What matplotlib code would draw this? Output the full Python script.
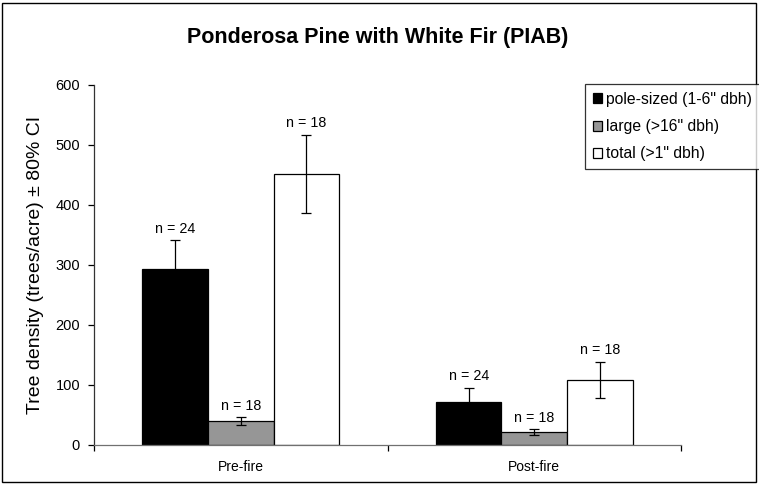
import matplotlib
matplotlib.use("Agg")
import matplotlib.pyplot as plt
import numpy as np
from matplotlib.patches import Rectangle

plt.rcParams['font.family'] = ['Liberation Sans', 'DejaVu Sans']

categories = ["Pre-fire", "Post-fire"]
series_names = ['pole-sized (1-6" dbh)', 'large (>16" dbh)', 'total (>1" dbh)']
pole = [294, 72]
pole_ci = [47, 23]
large = [40, 21]
large_ci = [6, 5]
total = [452, 108]
total_ci = [65, 30]
n_pole = ["n = 24", "n = 24"]
n_large = ["n = 18", "n = 18"]
n_total = ["n = 18", "n = 18"]
yticks = [0, 100, 200, 300, 400, 500, 600]

W, H = 759, 484
fig = plt.figure(figsize=(W/100, H/100), dpi=100)
fig.patches.append(Rectangle((2/W, 2/H), (W-5)/W, (H-5)/H, transform=fig.transFigure,
                             fill=False, edgecolor='black', linewidth=1.0))

left, right, top, bottom = 94, 681, 85, 445
ax = fig.add_axes([left/W, (H-bottom)/H, (right-left)/W, (bottom-top)/H])

x = np.arange(len(categories))
bw = 0.2233
colors = ['black', '#969696', 'white']
vals = [pole, large, total]
cis = [pole_ci, large_ci, total_ci]
ns = [n_pole, n_large, n_total]
offs = [-bw, 0, bw]
handles = []
for v, c, col, nl, o in zip(vals, cis, colors, ns, offs):
    b = ax.bar(x + o, v, width=bw, color=col, edgecolor='black', linewidth=0.9, zorder=2)
    handles.append(b)
    ax.errorbar(x + o, v, yerr=c, fmt='none', ecolor='black', elinewidth=0.9,
                capsize=3.8, capthick=0.9, zorder=3)
    for xi, vi, ci, t in zip(x + o, v, c, nl):
        ax.annotate(t, (xi, vi + ci), xytext=(0, 3.5), textcoords='offset points',
                    ha='center', va='bottom', fontsize=10.3)

ax.set_xlim(-0.5, 1.5)
ax.set_ylim(0, 600)
ax.set_yticks(yticks)
ax.set_yticklabels([str(t) for t in yticks], fontsize=10.5)
ax.set_xticks([-0.5, 0.5, 1.5])
ax.set_xticklabels([])
ax.set_xticks(x, minor=True)
ax.set_xticklabels(categories, minor=True, fontsize=10)
ax.tick_params(axis='x', which='minor', length=0, pad=11)
ax.tick_params(axis='x', which='major', length=4, width=0.9, color='black', direction='out')
ax.tick_params(axis='y', length=4, width=0.9, direction='out', pad=6)
for s in ['top', 'right']:
    ax.spines[s].set_visible(False)
ax.spines['left'].set_linewidth(0.9)
ax.spines['left'].set_color('#333333')
ax.spines['bottom'].set_linewidth(0.9)
ax.spines['bottom'].set_color('#707070')

ax.set_ylabel("Tree density (trees/acre) ± 80% CI", fontsize=14, labelpad=8)
fig.text(378/W, 1-38/H, "Ponderosa Pine with White Fir (PIAB)", ha='center', va='center',
         fontsize=15.5, fontweight='bold')

leg = fig.legend(handles, series_names, loc='upper left', bbox_to_anchor=(585/W, 1-84/H),
                 fontsize=11.3, frameon=True, fancybox=False, edgecolor='black',
                 handlelength=0.6, handleheight=0.6, handletextpad=0.25,
                 labelspacing=0.78, borderpad=0.5, borderaxespad=0)
leg.get_frame().set_linewidth(0.9)

fig.savefig("out.png", dpi=100)
